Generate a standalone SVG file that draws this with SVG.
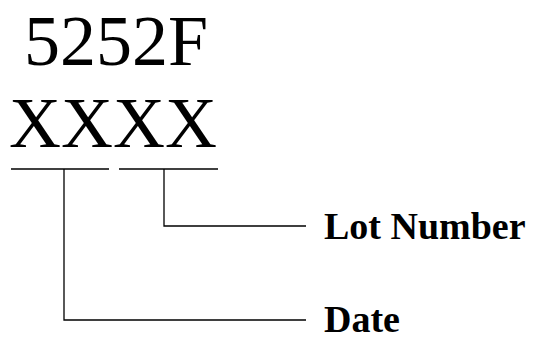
<svg xmlns="http://www.w3.org/2000/svg" width="535" height="341" viewBox="0 0 535 341">
<style>
.big{font-family:"Liberation Serif","Times New Roman",serif;font-size:72px;fill:#000}
.lbl{font-family:"Liberation Serif","Times New Roman",serif;font-size:38px;font-weight:bold;fill:#000}
.ln{stroke:#000;stroke-width:1.3;fill:none}
</style>
<rect width="535" height="341" fill="#fff"/>
<g id="part"><text class="big" x="24" y="64.5">5252F</text></g>
<g id="code"><text class="big" x="9" y="147">XXXX</text></g>
<g id="lot"><text class="lbl" x="324" y="239">Lot Number</text></g>
<g id="date"><text class="lbl" x="324" y="332">Date</text></g>
<g id="connectors">
<line class="ln" x1="11" y1="169" x2="109" y2="169"/>
<line class="ln" x1="119" y1="169" x2="218" y2="169"/>
<polyline class="ln" points="164,169 164,226 306,226"/>
<polyline class="ln" points="64,169 64,320 306,320"/>
</g>
</svg>
